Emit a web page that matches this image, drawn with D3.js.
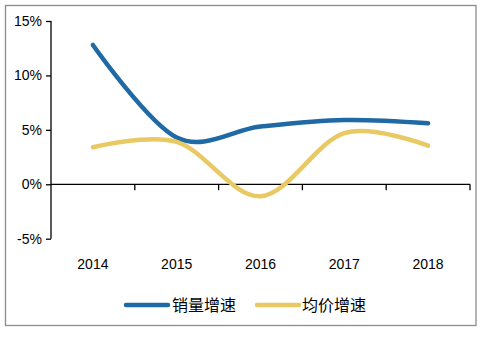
<!DOCTYPE html>
<html><head><meta charset="utf-8">
<script src="https://cdn.jsdelivr.net/npm/d3@7/dist/d3.min.js"></script>
<style>body{margin:0;background:#fff}svg{display:block}</style>
</head><body>
<svg id="c" width="485" height="338"></svg>
<script>
const categories = ["2014","2015","2016","2017","2018"];
const salesGrowth = [12.8, 4.3, 5.3, 5.9, 5.6];
const priceGrowth = [3.4, 3.9, -1.1, 4.7, 3.55];
const yTicks = [-5, 0, 5, 10, 15];
const seriesNames = ["销量增速", "均价增速"];
const colors = ["#1f69a5", "#e8c964"];

const svg = d3.select("#c");
svg.append("rect").attr("x",5.5).attr("y",5.5).attr("width",470.5).attr("height",320)
  .attr("fill","#fff").attr("stroke","#8c8c8c").attr("stroke-width",1.3);

const x = d3.scaleBand().domain(categories).range([51, 470]);
const y = d3.scaleLinear().domain([-5, 15]).range([238.7, 21]);

// y axis
const ya = svg.append("g").attr("transform","translate(51,0)")
  .call(d3.axisLeft(y).tickValues(yTicks).tickSize(5).tickPadding(4).tickFormat(d => d + "%"));
ya.selectAll("path,line").attr("stroke","#000").attr("stroke-width",1.3);
ya.select(".domain").attr("d", `M0,${y(15)}V${y(-5)}`).attr("stroke","#000");
ya.selectAll("text").attr("font-family","Liberation Sans, Arial, sans-serif").attr("font-size",14).attr("fill","#000");

// x axis at zero
const xa = svg.append("g").attr("transform",`translate(0,${y(0)})`)
  .call(d3.axisBottom(x).tickSize(0).tickFormat(""));
xa.select(".domain").attr("d","M51,0H470").attr("stroke","#000").attr("stroke-width",1.3);
const bounds = categories.map(c => x(c) + x.bandwidth());
svg.append("g").selectAll("line").data(bounds).join("line")
  .attr("x1",d=>d).attr("x2",d=>d).attr("y1",y(0)).attr("y2",y(0)+6)
  .attr("stroke","#000").attr("stroke-width",1.3);

// x labels
svg.append("g").selectAll("text").data(categories).join("text")
  .attr("x", d => x(d) + x.bandwidth()/2).attr("y", 269)
  .attr("text-anchor","middle").attr("font-family","Liberation Sans, Arial, sans-serif")
  .attr("font-size",14).attr("fill","#000").text(d=>d);

const line = d3.line().x((d,i)=>x(categories[i]) + x.bandwidth()/2).y(d=>y(d))
  .curve(d3.curveCardinal.tension(0));
[salesGrowth, priceGrowth].forEach((s,k)=>{
  svg.append("path").attr("d", line(s)).attr("fill","none")
    .attr("stroke", colors[k]).attr("stroke-width",4.5).attr("stroke-linecap","round");
});

// legend
const leg = [{x1:126,x2:168,tx:172},{x1:257,x2:299,tx:302}];
leg.forEach((l,k)=>{
  svg.append("line").attr("x1",l.x1).attr("x2",l.x2).attr("y1",305).attr("y2",305)
    .attr("stroke",colors[k]).attr("stroke-width",4.5).attr("stroke-linecap","round");
  svg.append("text").attr("x",l.tx).attr("y",311).attr("font-family","Noto Sans CJK SC, sans-serif")
    .attr("font-size",16).attr("fill","#000").text(seriesNames[k]);
});
</script>
</body></html>
